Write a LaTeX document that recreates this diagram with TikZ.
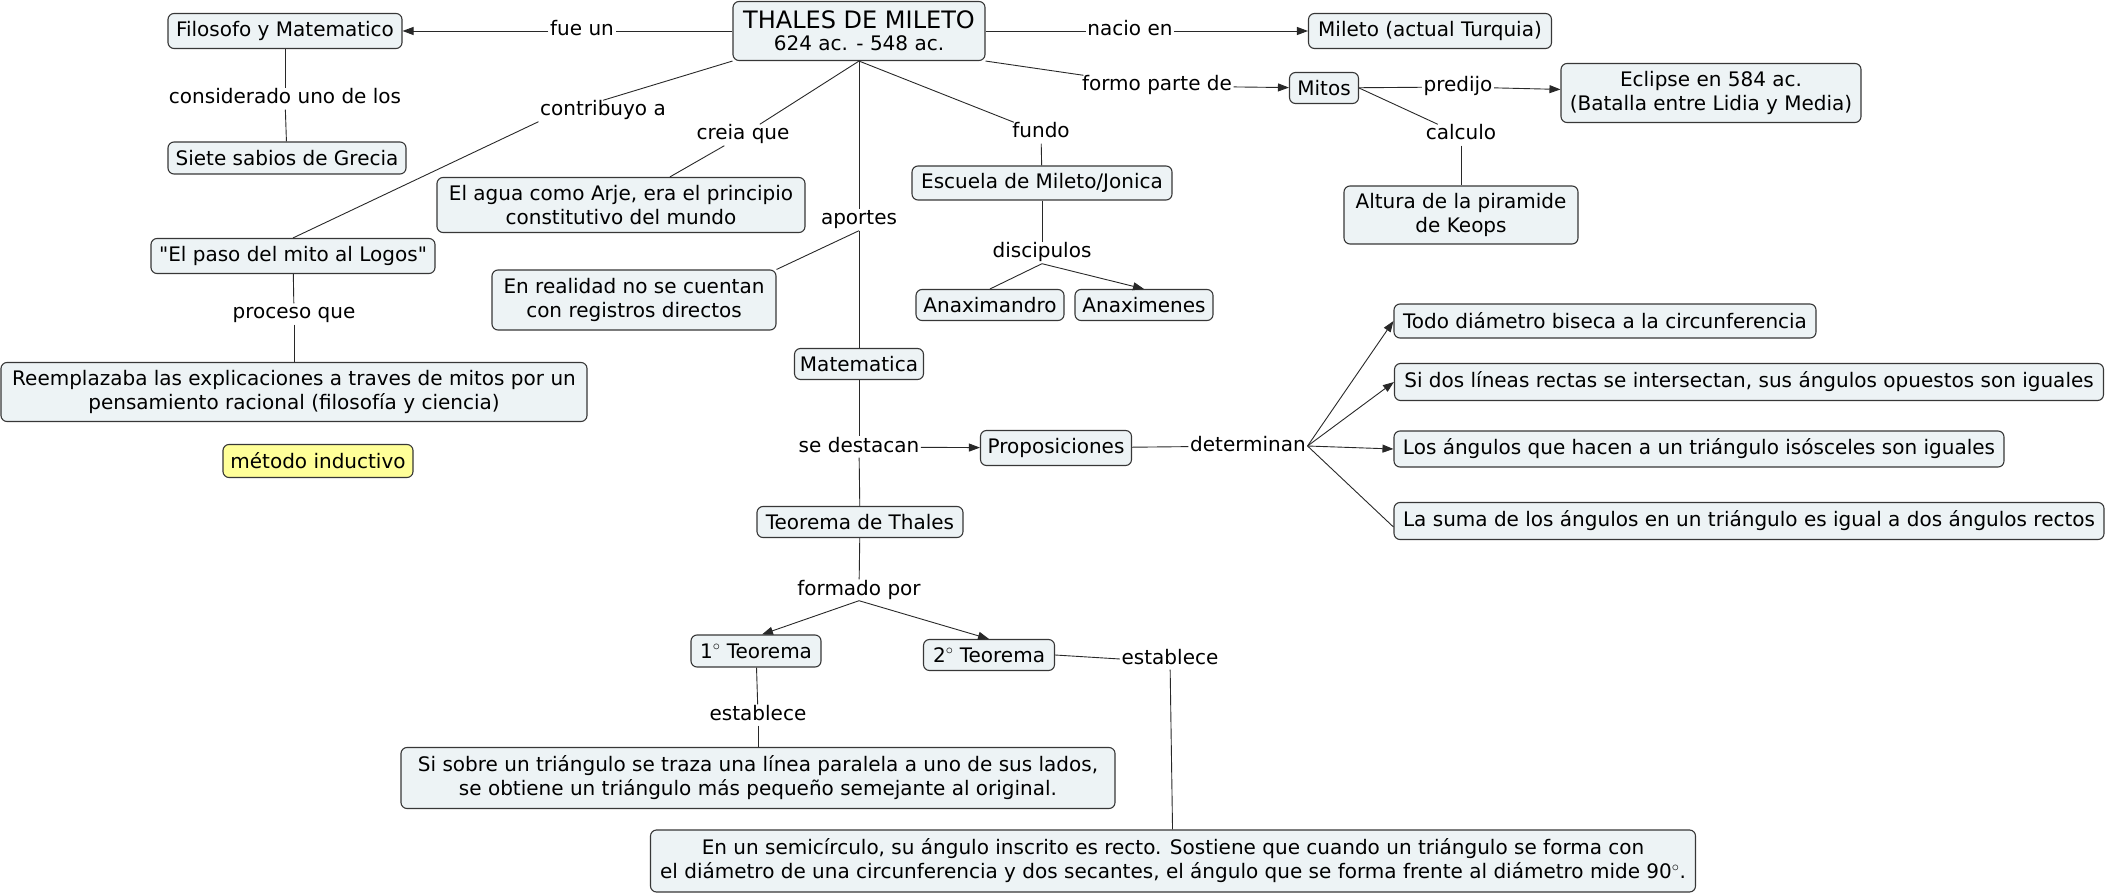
\documentclass[tikz,border=0pt]{standalone}
\usepackage{fontspec}
\setmainfont{DejaVu Sans}
\newfontfamily\qfont{DejaVu Sans}
\usetikzlibrary{arrows.meta}
\definecolor{boxfill}{RGB}{237,243,245}
\definecolor{boxline}{RGB}{55,55,55}
\definecolor{lnk}{RGB}{40,40,40}
\definecolor{yel}{RGB}{255,255,153}
\begin{document}
\begin{tikzpicture}[x=1pt,y=-1pt,
  concept/.style={draw=boxline, line width=1.1pt, fill=boxfill, rounded corners=6pt,
    font=\fontsize{20}{24}\selectfont, align=center, inner xsep=4pt, inner ysep=3pt},
  sz/.style 2 args={minimum width=#1pt, minimum height=#2pt},
  lbl/.style={font=\fontsize{20}{24}\selectfont, inner sep=1.5pt, text height=14pt, text depth=4pt},
  link/.style={draw=lnk, line width=0.9pt},
  arr/.style={link, -{Triangle[length=11pt,width=8pt]}}]
\useasboundingbox (0,0) rectangle (2109,893);
% concepts
\node[concept, sz={252}{59}] (thales) at (859,31) {{\fontsize{24}{26}\selectfont THALES DE MILETO}\\[-2pt]624 ac. - 548 ac.};
\node[concept, sz={234}{35}] (filo) at (285,31) {Filosofo y Matematico};
\node[concept, sz={238}{32}] (siete) at (287,158) {Siete sabios de Grecia};
\node[concept, sz={284}{35}] (elpaso) at (293,256) {{\qfont "El paso del mito al Logos"}};
\node[concept, sz={586}{59}] (reempl) at (294,392) {Reemplazaba las explicaciones a traves de mitos por un\\pensamiento racional (filosofía y ciencia)};
\node[concept, sz={190}{33}, fill=yel] (metodo) at (318,461) {método inductivo};
\node[concept, sz={368}{55}] (elagua) at (621,205) {El agua como Arje, era el principio\\constitutivo del mundo};
\node[concept, sz={284}{60}] (enreal) at (634,300) {En realidad no se cuentan\\con registros directos};
\node[concept, sz={243}{35}] (mileto) at (1430,31) {Mileto (actual Turquia)};
\node[concept, sz={69}{31}] (mitos) at (1324,88) {Mitos};
\node[concept, sz={300}{59}] (eclipse) at (1711,93) {Eclipse en 584 ac.\\(Batalla entre Lidia y Media)};
\node[concept, sz={234}{58}] (altura) at (1461,215) {Altura de la piramide\\de Keops};
\node[concept, sz={260}{34}] (escuela) at (1042,183) {Escuela de Mileto/Jonica};
\node[concept, sz={148}{31}] (anaxd) at (990,305) {Anaximandro};
\node[concept, sz={138}{31}] (anaxn) at (1144,305) {Anaximenes};
\node[concept, sz={129}{31}] (mate) at (859,364) {Matematica};
\node[concept, sz={206}{31}] (teorema) at (860,522) {Teorema de Thales};
\node[concept, sz={151}{35}] (props) at (1056,448) {Proposiciones};
\node[concept, sz={422}{34}] (todo) at (1605,321) {Todo diámetro biseca a la circunferencia};
\node[concept, sz={709}{37}] (sidos) at (1749,382) {Si dos líneas rectas se intersectan, sus ángulos opuestos son iguales};
\node[concept, sz={610}{36}] (losang) at (1699,449) {Los ángulos que hacen a un triángulo isósceles son iguales};
\node[concept, sz={710}{37}] (lasuma) at (1749,521) {La suma de los ángulos en un triángulo es igual a dos ángulos rectos};
\node[concept, sz={130}{32}] (t1) at (756,651) {1$^\circ$ Teorema};
\node[concept, sz={131}{31}] (t2) at (989,655) {2$^\circ$ Teorema};
\node[concept, sz={714}{61}] (sisobre) at (758,778) {Si sobre un triángulo se traza una línea paralela a uno de sus lados,\\se obtiene un triángulo más pequeño semejante al original.};
\node[concept, sz={1045}{62}] (enun) at (1173,861) {En un semicírculo, su ángulo inscrito es recto. Sostiene que cuando un triángulo se forma con\\el diámetro de una circunferencia y dos secantes, el ángulo que se forma frente al diámetro mide 90$^\circ$.};
% labels
\node[lbl] (fueun) at (582,31) {fue un};
\node[lbl] (consid) at (285,99) {considerado uno de los};
\node[lbl] (contrib) at (603,111) {contribuyo a};
\node[lbl] (creia) at (743,135) {creia que};
\node[lbl] (aportes) at (859,220) {aportes};
\node[lbl] (nacio) at (1130,31) {nacio en};
\node[lbl] (formo) at (1157,86) {formo parte de};
\node[lbl] (predijo) at (1458,87) {predijo};
\node[lbl] (calculo) at (1461,135) {calculo};
\node[lbl] (fundo) at (1041,133) {fundo};
\node[lbl] (disc) at (1042,253) {discipulos};
\node[lbl] (proceso) at (294,314) {proceso que};
\node[lbl] (sedest) at (859,447) {se destacan};
\node[lbl] (determ) at (1248,446) {determinan};
\node[lbl] (formado) at (859,590) {formado por};
\node[lbl] (est1) at (758,715) {establece};
\node[lbl] (est2) at (1170,659) {establece};
% links
\draw[link] (thales) -- (fueun);
\draw[arr] (fueun) -- (filo);
\draw[link] (thales) -- (nacio);
\draw[arr] (nacio) -- (mileto);
\draw[link] (thales.south east) -- (formo);
\draw[arr] (formo) -- (mitos);
\draw[link] (thales.south west) -- (contrib.north);
\draw[link] (contrib.south west) -- (elpaso.north);
\draw[link] (thales.south) -- (creia);
\draw[link] (creia) -- (elagua);
\draw[link] (thales.south) -- (aportes);
\draw[link] (aportes.south) -- (enreal.north east);
\draw[link] (aportes) -- (mate);
\draw[link] (thales.south) -- (fundo);
\draw[link] (fundo) -- (escuela);
\draw[link] (escuela) -- (disc);
\draw[link] (disc.south) -- (anaxd.north);
\draw[arr] (disc.south) -- (anaxn.north);
\draw[link] (filo) -- (consid);
\draw[link] (consid) -- (siete);
\draw[link] (elpaso) -- (proceso);
\draw[link] (proceso) -- (reempl);
\draw[link] (mitos) -- (predijo);
\draw[arr] (predijo) -- (eclipse);
\draw[link] (mitos.east) -- (calculo);
\draw[link] (calculo) -- (altura);
\draw[link] (mate) -- (sedest);
\draw[arr] (sedest) -- (props);
\draw[link] (sedest) -- (teorema);
\draw[link] (props) -- (determ);
\draw[arr] (determ.east) -- (todo.west);
\draw[arr] (determ.east) -- (sidos.west);
\draw[arr] (determ.east) -- (losang.west);
\draw[link] (determ.east) -- ([yshift=-6pt]lasuma.west);
\draw[link] (teorema) -- (formado);
\draw[arr] (formado.south) -- ([xshift=6pt]t1.north);
\draw[arr] (formado.south) -- (t2.north);
\draw[link] (t1) -- (est1);
\draw[link] (est1) -- (sisobre);
\draw[link] (t2.east) -- (est2.west);
\draw[link] (est2) -- (enun);
\end{tikzpicture}
\end{document}
